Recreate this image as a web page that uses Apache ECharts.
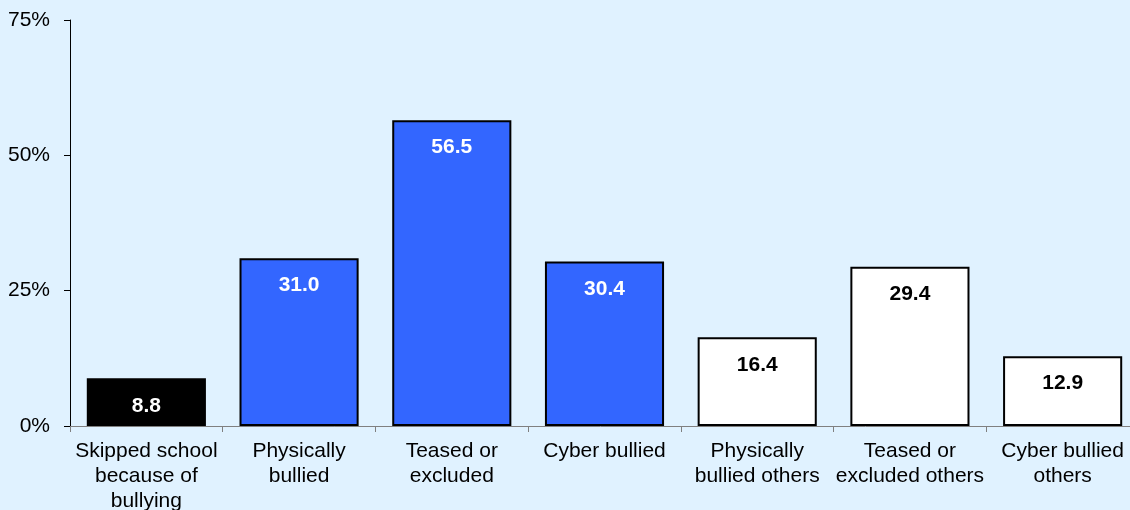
<!DOCTYPE html>
<html>
<head>
<meta charset="utf-8">
<script src="https://cdn.jsdelivr.net/npm/echarts@6/dist/echarts.min.js"></script>
<style>
html,body{margin:0;padding:0;background:#E0F2FF;}
#chart{width:1130px;height:510px;}
</style>
</head>
<body>
<div id="chart"></div>
<script>
const categories = [
  "Skipped school\nbecause of\nbullying",
  "Physically\nbullied",
  "Teased or\nexcluded",
  "Cyber bullied",
  "Physically\nbullied others",
  "Teased or\nexcluded others",
  "Cyber bullied\nothers"
];
const values = [8.8, 31.0, 56.5, 30.4, 16.4, 29.4, 12.9];
const groups = ["skipped", "victim", "victim", "victim", "perpetrator", "perpetrator", "perpetrator"];
const yTicks = [0, 25, 50, 75];

const fillByGroup = { skipped: "#000000", victim: "#3366FF", perpetrator: "#FFFFFF" };
const labelByGroup = { skipped: "#FFFFFF", victim: "#FFFFFF", perpetrator: "#000000" };

const FONT = "Liberation Sans, Arial, sans-serif";
const chart = echarts.init(document.getElementById("chart"));
chart.setOption({
  backgroundColor: "#E0F2FF",
  animation: false,
  grid: { left: 70, width: 1069, top: 20, height: 406, containLabel: false, outerBoundsMode: "none" },
  xAxis: {
    type: "category",
    data: categories,
    axisLine: { lineStyle: { color: "#808080", width: 1 } },
    axisTick: { show: true, length: 6, lineStyle: { color: "#808080" } },
    axisLabel: {
      color: "#000", fontFamily: FONT,
      fontSize: 21, lineHeight: 25, margin: 13, interval: 0
    }
  },
  yAxis: {
    type: "value",
    min: yTicks[0], max: yTicks[yTicks.length - 1], interval: 25,
    splitLine: { show: false },
    axisLine: { show: true, lineStyle: { color: "#000", width: 1 } },
    axisTick: { show: true, length: 6, lineStyle: { color: "#000" } },
    axisLabel: {
      color: "#000", fontFamily: FONT,
      fontSize: 21, margin: 20, formatter: v => v + "%"
    }
  },
  series: [{
    type: "bar",
    barWidth: "78%",
    data: values.map((v, i) => ({
      value: v,
      itemStyle: { color: fillByGroup[groups[i]], borderColor: "#000", borderWidth: 2 },
      label: { color: labelByGroup[groups[i]] }
    })),
    label: {
      show: true, position: "insideTop", distance: 17,
      fontFamily: FONT,
      fontSize: 21, fontWeight: "bold",
      formatter: p => p.value.toFixed(1)
    }
  }]
});
</script>
</body>
</html>
